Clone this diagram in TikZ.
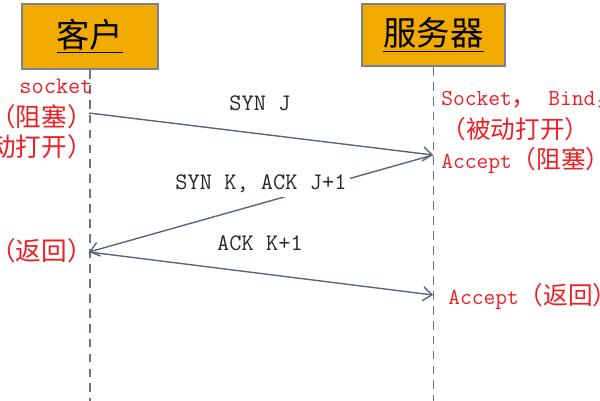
\documentclass[tikz,border=0pt]{standalone}
\usepackage{fontspec}
\newfontfamily\cjk[Scale=1.08]{Noto Sans CJK SC}
\usetikzlibrary{arrows.meta}
\definecolor{boxorange}{RGB}{240,170,0}
\definecolor{boxedge}{RGB}{120,128,145}
\definecolor{lifegray}{RGB}{105,115,140}
\definecolor{msggray}{RGB}{90,100,125}
\definecolor{notered}{RGB}{238,30,35}

\begin{document}
\begin{tikzpicture}[x=0.02cm,y=-0.02cm,
		actor/.style={draw=boxedge, line width=1pt, fill=boxorange, inner sep=0pt},
		lifeline/.style={draw=lifegray, line width=1pt, dash pattern=on 5pt off 3.5pt},
		msg/.style={draw=msggray, line width=0.8pt, -{Straight Barb[length=5pt,width=8pt]}},
		msglabel/.style={font=\fontsize{13.5}{15}\selectfont\ttfamily, text=black!85},
		lnote/.style={text=notered, font=\fontsize{13.5}{15}\selectfont, anchor=east, inner sep=0pt},
		rnote/.style={text=notered, font=\fontsize{13}{15}\selectfont, anchor=west, inner sep=0pt}]
	\useasboundingbox (0,0) rectangle (600,400);

	\node[actor, minimum width=2.72cm, minimum height=1.3cm] (client) at (90,36.5) {\cjk\fontsize{17.6}{20}\selectfont\underline{客户}};
	\node[actor, minimum width=2.86cm, minimum height=1.24cm] (server) at (433.5,35) {\cjk\fontsize{17.6}{20}\selectfont\underline{服务器}};

	\coordinate (bottom) at (0,402);
	\draw[lifeline] (client.south) -- (client.south |- bottom);
	\draw[lifeline] (server.south) -- (server.south |- bottom);

	\coordinate (csyn) at (89,113);
	\coordinate (sacc) at (433,155);
	\coordinate (cret) at (89,252);
	\coordinate (sret) at (433,295);

	\draw[msg] (csyn) -- (sacc);
	\draw[msg] (sacc) -- (cret);
	\draw[msg] (cret) -- (sret);

	\node[msglabel] (syn) at (260,103) {SYN J};
	\node[msglabel, fill=white, inner sep=2pt] (synack) at (261,184) {SYN K, ACK J+1};
	\node[msglabel] (ack) at (260,243) {ACK K+1};

	\node[lnote] (csock) at (93,86) {\ttfamily socket};
	\node[lnote] (cblock) at (93,117) {\cjk （阻塞）};
	\node[lnote] (cpassive) at (93,147) {\cjk （被动打开）};
	\node[lnote] (creturn) at (93,251) {\cjk （返回）};

	\node[rnote] (sbind) at (441,100) {\ttfamily Socket{\cjk ，}\ Bind{\cjk ，}};
	\node[rnote] (spassive) at (441,129) {\cjk （被动打开）};
	\node[rnote] (sblock) at (441,160) {\ttfamily Accept{\cjk （阻塞）}};
	\node[rnote] (sreturn) at (448,296) {\ttfamily Accept{\cjk （返回）}};
\end{tikzpicture}
\end{document}
